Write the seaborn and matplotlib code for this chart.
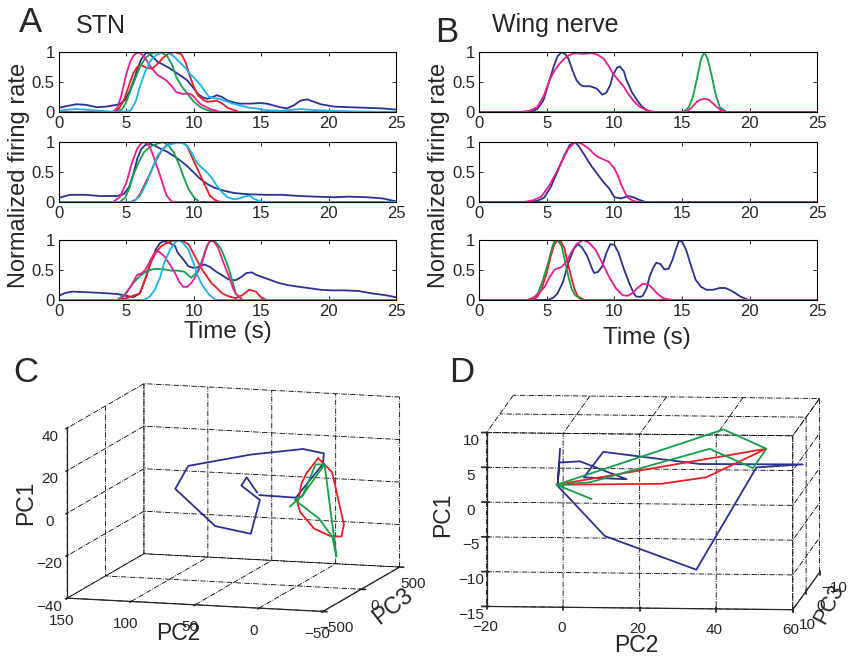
import matplotlib
matplotlib.use("Agg")
import matplotlib.pyplot as plt
import pandas as pd
import seaborn as sns

# colours of the recorded units
unit_colors = {"blue": "#2B3190", "red": "#EE1D24", "green": "#14A04A",
               "magenta": "#EC1C8C", "cyan": "#17B4EA"}

# ---- A: STN, normalized firing rate vs time (s), three trials ----
stn_trial1 = {
    "blue": ([0, 0.6, 1.3, 2.0, 2.8, 3.5, 4.0, 4.5, 4.9, 5.2, 5.5, 5.8, 6.1, 6.5, 6.9, 7.3, 7.8, 8.2, 8.8,
              9.5, 9.9, 10.3, 10.7, 11.0, 11.4, 11.7, 12.1, 12.5, 13.0, 13.4, 14.2, 14.9, 15.4, 15.9, 16.4,
              16.9, 17.4, 17.9, 18.4, 18.9, 19.4, 20.4, 21.5, 22.8, 24.0, 25],
             [0.07, 0.10, 0.13, 0.12, 0.08, 0.09, 0.11, 0.13, 0.20, 0.33, 0.50, 0.70, 0.88, 1.0, 0.93, 0.84,
              0.78, 0.73, 0.64, 0.53, 0.42, 0.30, 0.24, 0.22, 0.25, 0.28, 0.25, 0.19, 0.16, 0.14, 0.14, 0.15,
              0.14, 0.11, 0.08, 0.06, 0.11, 0.19, 0.21, 0.17, 0.13, 0.09, 0.08, 0.07, 0.06, 0.04]),
    "red": ([0, 4.0, 4.4, 4.8, 5.2, 5.5, 5.8, 6.1, 6.5, 6.9, 7.3, 7.7, 8.1, 8.6, 9.1, 9.4, 9.7, 10.0, 10.3,
             10.7, 11.0, 11.4, 11.7, 12.1, 12.5, 13.0, 13.4, 25],
            [0, 0, 0.04, 0.19, 0.45, 0.64, 0.75, 0.78, 0.74, 0.72, 0.80, 0.90, 0.97, 1.0, 0.96, 0.82, 0.60,
             0.42, 0.28, 0.20, 0.17, 0.18, 0.19, 0.14, 0.07, 0.03, 0.0, 0]),
    "green": ([0, 4.3, 4.7, 5.0, 5.3, 5.7, 6.0, 6.4, 6.8, 7.3, 7.7, 8.0, 8.4, 8.7, 9.1, 9.5, 10.0, 10.5,
               11.0, 11.5, 25],
              [0, 0, 0.05, 0.17, 0.36, 0.58, 0.75, 0.90, 0.97, 1.0, 0.98, 0.94, 0.78, 0.58, 0.43, 0.31, 0.17,
               0.08, 0.03, 0.0, 0]),
    "magenta": ([0, 4.0, 4.3, 4.6, 5.0, 5.3, 5.6, 5.9, 6.2, 6.5, 6.8, 7.3, 8.0, 8.4, 8.7, 9.2, 9.6, 9.9,
                 10.2, 10.5, 11.2, 12.0, 25],
                [0, 0, 0.06, 0.25, 0.64, 0.85, 0.96, 1.0, 0.95, 0.86, 0.75, 0.62, 0.52, 0.42, 0.33, 0.30,
                 0.31, 0.28, 0.20, 0.13, 0.05, 0.0, 0]),
    "cyan": ([0, 0.7, 1.3, 2.0, 3.0, 4.5, 5.3, 5.7, 6.0, 6.4, 6.8, 7.2, 7.6, 8.0, 8.5, 9.0, 9.4, 9.7, 10.1,
              10.5, 10.8, 11.1, 11.5, 11.9, 12.4, 12.9, 13.4, 13.9, 14.6, 15.4, 16.5, 17.9, 19.0, 20.4, 22.0, 25],
             [0.02, 0.04, 0.05, 0.04, 0.02, 0.0, 0.02, 0.18, 0.42, 0.68, 0.86, 0.95, 0.99, 1.0, 0.93, 0.82,
              0.73, 0.64, 0.55, 0.45, 0.35, 0.26, 0.23, 0.22, 0.18, 0.14, 0.11, 0.08, 0.06, 0.03, 0.02, 0.05,
              0.03, 0.02, 0.01, 0.0]),
}
stn_trial2 = {
    "blue": ([0, 0.8, 2.0, 3.0, 4.3, 4.8, 5.2, 5.5, 5.8, 6.1, 6.4, 6.8, 7.2, 7.5, 8.0, 8.5, 9.0, 9.5, 10.0,
              10.5, 11.0, 11.5, 12.2, 13.0, 14.0, 15.4, 16.5, 17.9, 19.0, 20.4, 21.5, 22.8, 24.0, 25],
             [0.07, 0.12, 0.12, 0.10, 0.10, 0.13, 0.25, 0.45, 0.72, 0.88, 0.95, 0.97, 0.93, 0.89, 0.84, 0.77,
              0.69, 0.60, 0.49, 0.38, 0.30, 0.24, 0.19, 0.15, 0.13, 0.12, 0.12, 0.10, 0.09, 0.08, 0.09, 0.08,
              0.06, 0.01]),
    "red": ([0, 5.3, 5.7, 6.0, 6.3, 6.7, 7.0, 7.4, 7.7, 8.1, 8.5, 9.2, 9.5, 9.7, 10.1, 10.5, 10.9, 11.2,
             11.6, 12.0, 25],
            [0, 0, 0.04, 0.13, 0.27, 0.45, 0.60, 0.78, 0.89, 0.96, 1.0, 0.99, 0.93, 0.83, 0.63, 0.44, 0.24,
             0.10, 0.03, 0.0, 0]),
    "green": ([0, 4.5, 4.9, 5.2, 5.5, 5.9, 6.3, 6.7, 7.0, 7.4, 7.7, 8.1, 8.5, 8.9, 9.2, 9.6, 10.0, 10.4, 25],
              [0, 0, 0.07, 0.22, 0.44, 0.66, 0.83, 0.91, 0.95, 0.98, 1.0, 0.95, 0.83, 0.63, 0.44, 0.22, 0.08,
               0.0, 0]),
    "magenta": ([0, 4.0, 4.5, 5.0, 5.4, 5.8, 6.1, 6.3, 6.6, 6.8, 7.1, 7.5, 7.8, 8.0, 8.4, 25],
                [0, 0, 0.08, 0.32, 0.65, 0.89, 0.98, 1.0, 0.96, 0.89, 0.70, 0.44, 0.22, 0.10, 0.0, 0]),
    "cyan": ([0, 5.5, 6.0, 6.5, 6.9, 7.3, 7.7, 8.0, 8.4, 8.7, 9.1, 9.5, 9.9, 10.2, 10.6, 11.0, 11.4, 11.7,
              12.1, 12.5, 12.9, 13.2, 13.6, 13.9, 14.2, 14.4, 14.8, 15.2, 25],
             [0, 0, 0.10, 0.32, 0.55, 0.77, 0.88, 0.94, 0.97, 0.99, 0.99, 0.94, 0.80, 0.66, 0.57, 0.49, 0.38,
              0.27, 0.16, 0.08, 0.05, 0.05, 0.08, 0.10, 0.10, 0.06, 0.02, 0.0, 0]),
}
stn_trial3 = {
    "blue": ([0, 0.5, 1.0, 2.0, 3.0, 4.3, 5.0, 5.5, 6.0, 6.4, 6.8, 7.2, 7.5, 7.8, 8.2, 8.6, 8.8, 9.2, 9.6,
              10.1, 10.5, 10.8, 11.2, 11.6, 12.1, 12.6, 13.1, 13.5, 13.9, 14.3, 14.6, 15.1, 15.6, 16.2, 16.9,
              17.5, 18.1, 18.8, 19.4, 20.3, 21.2, 22.2, 23.2, 24.2, 25],
             [0.07, 0.12, 0.14, 0.13, 0.12, 0.10, 0.07, 0.045, 0.11, 0.35, 0.62, 0.85, 0.95, 0.98, 0.95, 0.90,
              0.79, 0.68, 0.56, 0.53, 0.57, 0.59, 0.55, 0.48, 0.41, 0.34, 0.33, 0.38, 0.45, 0.46, 0.42, 0.38,
              0.34, 0.29, 0.25, 0.23, 0.21, 0.19, 0.17, 0.16, 0.16, 0.15, 0.11, 0.08, 0.045]),
    "red": ([0, 4.5, 5.0, 5.5, 6.0, 6.4, 6.8, 7.2, 7.6, 8.0, 8.6, 9.1, 9.6, 10.1, 10.6, 11.0, 11.3, 11.7,
             12.1, 12.6, 13.1, 13.6, 14.1, 14.6, 15.0, 15.4, 25],
            [0, 0, 0.03, 0.07, 0.11, 0.35, 0.62, 0.80, 0.90, 0.95, 1.0, 0.99, 0.93, 0.72, 0.51, 0.38, 0.28,
             0.20, 0.11, 0.06, 0.03, 0.08, 0.17, 0.14, 0.04, 0.0, 0]),
    "green": ([0, 4.3, 4.9, 5.5, 6.0, 6.5, 6.9, 7.3, 7.8, 8.3, 8.8, 9.3, 9.8, 10.3, 10.6, 10.8, 11.0, 11.3,
               11.6, 12.0, 12.3, 12.6, 12.9, 13.1, 13.6, 25],
              [0, 0, 0.10, 0.28, 0.40, 0.48, 0.51, 0.52, 0.51, 0.49, 0.49, 0.47, 0.37, 0.48, 0.65, 0.79, 0.92,
               1.0, 0.97, 0.86, 0.70, 0.51, 0.28, 0.11, 0.0, 0]),
    "magenta": ([0, 4.5, 4.9, 5.3, 5.8, 6.1, 6.4, 6.8, 7.1, 7.4, 7.8, 8.2, 8.6, 8.9, 9.2, 9.5, 9.8, 10.2,
                 10.6, 10.9, 11.2, 11.5, 11.8, 12.2, 12.6, 12.9, 13.1, 13.6, 25],
                [0, 0, 0.08, 0.22, 0.42, 0.44, 0.50, 0.67, 0.79, 0.81, 0.73, 0.60, 0.45, 0.31, 0.22, 0.22,
                 0.28, 0.42, 0.62, 0.85, 1.0, 0.97, 0.87, 0.62, 0.39, 0.20, 0.11, 0.0, 0]),
    "cyan": ([0, 6.3, 6.7, 7.1, 7.5, 7.8, 8.2, 8.6, 8.9, 9.2, 9.6, 10.0, 10.3, 10.7, 11.1, 11.6, 25],
             [0, 0, 0.05, 0.17, 0.38, 0.62, 0.82, 0.96, 1.0, 0.95, 0.84, 0.60, 0.39, 0.22, 0.10, 0.0, 0]),
}

# ---- B: wing nerve ----
wing_trial1 = {
    "red": ([0, 25], [0, 0]),
    "green": ([0, 15.1, 15.5, 15.8, 16.1, 16.4, 16.65, 16.9, 17.2, 17.5, 17.8, 18.3, 25],
              [0, 0, 0.08, 0.25, 0.55, 0.88, 1.0, 0.88, 0.60, 0.28, 0.08, 0.0, 0]),
    "blue": ([0, 3.8, 4.3, 4.75, 5.1, 5.5, 5.8, 6.1, 6.4, 6.6, 6.9, 7.2, 7.5, 7.7, 8.2, 8.7, 9.1, 9.4, 9.7,
              9.9, 10.2, 10.4, 10.7, 10.9, 11.3, 11.7, 12.0, 12.4, 12.9, 25],
             [0, 0, 0.05, 0.19, 0.45, 0.75, 0.93, 1.0, 0.96, 0.89, 0.70, 0.53, 0.45, 0.43, 0.43, 0.39, 0.29,
              0.32, 0.45, 0.62, 0.74, 0.76, 0.68, 0.53, 0.33, 0.19, 0.10, 0.03, 0.0, 0]),
    "magenta": ([0, 3.0, 3.7, 4.3, 4.8, 5.2, 5.6, 6.0, 6.5, 7.0, 7.7, 8.4, 8.8, 9.2, 9.6, 9.9, 10.3, 10.7,
                 11.0, 11.4, 11.8, 12.1, 12.5, 12.9, 15.3, 15.7, 16.1, 16.4, 16.7, 17.0, 17.3, 17.7, 18.1, 25],
                [0, 0, 0.02, 0.08, 0.28, 0.53, 0.70, 0.82, 0.93, 0.98, 0.97, 0.98, 0.95, 0.89, 0.76, 0.64,
                 0.53, 0.42, 0.31, 0.19, 0.10, 0.06, 0.02, 0.0, 0.0, 0.07, 0.17, 0.21, 0.22, 0.20, 0.14, 0.06,
                 0.0, 0]),
}
wing_trial2 = {
    "red": ([0, 25], [0, 0]),
    "green": ([0, 25], [0, 0]),
    "blue": ([0, 3.6, 4.3, 4.8, 5.3, 5.8, 6.3, 6.7, 7.1, 7.4, 7.8, 8.3, 8.8, 9.2, 9.6, 10.0, 10.5, 11.0,
              11.4, 11.8, 12.3, 25],
             [0, 0, 0.02, 0.07, 0.25, 0.51, 0.78, 0.95, 1.0, 0.92, 0.78, 0.60, 0.45, 0.33, 0.23, 0.08, 0.06,
              0.10, 0.08, 0.04, 0.0, 0]),
    "magenta": ([0, 3.3, 4.0, 4.6, 5.2, 5.8, 6.2, 6.6, 7.0, 7.2, 7.6, 8.1, 8.5, 8.8, 9.2, 9.6, 10.0, 10.3,
                 10.5, 10.8, 11.0, 11.4, 11.8, 25],
                [0, 0, 0.03, 0.09, 0.28, 0.53, 0.72, 0.89, 0.98, 1.0, 0.97, 0.89, 0.80, 0.75, 0.71, 0.67,
                 0.56, 0.42, 0.29, 0.15, 0.07, 0.02, 0.0, 0]),
}
wing_trial3 = {
    "blue": ([0, 5.1, 5.5, 5.8, 6.2, 6.6, 7.0, 7.3, 7.6, 8.0, 8.3, 8.5, 8.8, 9.1, 9.4, 9.7, 10.0, 10.3, 10.7,
              11.1, 11.4, 11.6, 11.9, 12.1, 12.4, 12.6, 12.9, 13.1, 13.4, 13.7, 14.0, 14.3, 14.6, 14.8, 15.0,
              15.3, 15.6, 16.0, 16.4, 16.8, 17.3, 17.8, 18.2, 18.5, 18.9, 19.3, 19.9, 25],
             [0, 0, 0.04, 0.11, 0.30, 0.62, 0.85, 0.93, 0.88, 0.73, 0.55, 0.45, 0.47, 0.56, 0.78, 0.93, 0.92,
              0.79, 0.52, 0.28, 0.13, 0.06, 0.05, 0.07, 0.20, 0.39, 0.55, 0.62, 0.60, 0.51, 0.52, 0.67, 0.88,
              1.0, 0.97, 0.84, 0.62, 0.34, 0.22, 0.17, 0.17, 0.20, 0.20, 0.17, 0.12, 0.06, 0.0, 0]),
    "red": ([0, 3.9, 4.3, 4.6, 5.0, 5.3, 5.55, 5.8, 6.05, 6.3, 6.55, 6.8, 7.05, 7.3, 7.8, 25],
            [0, 0, 0.05, 0.17, 0.45, 0.73, 0.92, 1.0, 0.97, 0.87, 0.62, 0.39, 0.18, 0.06, 0.0, 0]),
    "green": ([0, 3.6, 4.0, 4.35, 4.7, 5.1, 5.4, 5.6, 5.85, 6.1, 6.35, 6.6, 6.85, 7.1, 7.6, 25],
              [0, 0, 0.03, 0.11, 0.32, 0.62, 0.88, 1.0, 0.98, 0.90, 0.65, 0.39, 0.18, 0.08, 0.0, 0]),
    "magenta": ([0, 3.6, 4.2, 4.85, 5.2, 5.6, 6.1, 6.5, 6.8, 7.2, 7.7, 8.1, 8.6, 9.1, 9.6, 10.1, 10.6, 11.0,
                 11.3, 11.7, 12.1, 12.5, 12.8, 13.2, 13.6, 14.3, 25],
                [0, 0, 0.06, 0.22, 0.38, 0.51, 0.55, 0.65, 0.79, 0.93, 1.0, 0.96, 0.84, 0.62, 0.39, 0.20,
                 0.08, 0.07, 0.11, 0.20, 0.27, 0.26, 0.20, 0.10, 0.03, 0.0, 0]),
}

# ---- C: STN trajectories in PC space ----
stn_blue_pc2 = [29.8, 0.6, -18.9, -18.9, -3.3, 37.1, 85.3, 94.9, 63.1, 35.8, 29.3, 44.4, 40.2, 31.4]
stn_blue_pc3 = [0, -10, 20, 30, 20, 10, 0, -10, -20, -10, 0, 10, 10, 0]
stn_blue_pc1 = [1.8, 1.7, 17.6, 22.3, 24.1, 20.4, 13.8, 2.9, -13.4, -16.4, -0.5, 5.6, 9.6, 2.9]
stn_red_pc2 = [-16.3, -24.1, -26.7, -35.8, -34.5, -26.7, -13.7, -2.0, -0.2, -3.3, -7.2, -16.3]
stn_red_pc3 = [0, 0, 10, 10, 0, -10, -10, 0, 0, 0, 0, 0]
stn_red_pc1 = [20.6, 16.2, 13.9, -10.1, -15.7, -15.6, -12.4, -5.0, -1.1, 8.4, 13.3, 20.6]
stn_green_pc2 = [5.9, -4.5, -13.7, -20.7, -3.3, 2.0, -17.6, -28.0, -30.6, -20.7]
stn_green_pc3 = [0, 0, 10, 10, 0, 0, -10, -10, 0, 10]
stn_green_pc1 = [-2.9, 3.0, 17.4, 17.6, 2.1, 0.4, -7.6, -15.9, -25.2, 17.6]

# ---- D: wing nerve trajectories in PC space ----
wing_blue_pc2 = [-4.3, -4.9, -4.5, 0.9, 13.1, 1.9, 7.0, 32.2, 59.1, 47.0, 31.3, 7.4, -5.2]
wing_blue_pc3 = [0, 0, 0, 0, 0, 0, 0, 0, 0, 0, 0, 0, 0]
wing_blue_pc1 = [5.1, 0.0, 3.1, 3.3, 0.8, 1.0, 4.7, 3.1, 3.2, 2.7, -12.1, -7.4, -0.1]
wing_red_pc2 = [-5.2, 22.2, 33.9, 49.6, -5.2]
wing_red_pc3 = [0, 0, 0, 0, 0]
wing_red_pc1 = [-0.1, 0.2, 1.2, 5.4, -0.1]
wing_green_pc2 = [3.9, -5.2, 38.4, 49.6, 46.1, 34.8, 3.5, -5.2]
wing_green_pc3 = [0, 0, 0, 0, 0, 0, 0, 0]
wing_green_pc1 = [-2.1, -0.1, 8.1, 5.4, 2.6, 5.3, 0.3, -0.1]

time_ticks = [0, 5, 10, 15, 20, 25]
rate_ticks = [0, 0.5, 1]
rate_labels = ["0", "0.5", "1"]


def trace_frame(traces):
    rows = []
    for unit, (times, rates) in traces.items():
        for t, r in zip(times, rates):
            rows.append((unit, t, r))
    return pd.DataFrame(rows, columns=["unit", "time", "rate"])


def rate_panel(ax, traces):
    df = trace_frame(traces)
    sns.lineplot(data=df, x="time", y="rate", hue="unit", hue_order=list(traces),
                 palette=unit_colors, estimator=None, legend=False, lw=1.3, ax=ax)
    ax.set_xlim(0, 25)
    ax.set_ylim(0, 1)
    ax.set_xticks(time_ticks)
    ax.set_yticks(rate_ticks)
    ax.set_yticklabels(rate_labels)
    ax.set_xlabel("")
    ax.set_ylabel("")
    ax.tick_params(direction="in", top=True, right=True, length=3, width=0.7,
                   labelsize=12, pad=3)
    for s in ax.spines.values():
        s.set_linewidth(0.8)
        s.set_color("black")


def pc_panel(ax, lines, xlim, ylim, zlim, xticks, yticks, zticks, aspect, elev, azim):
    for pc2, pc3, pc1, col in lines:
        ax.plot(pc2, pc3, pc1, color=unit_colors[col], lw=1.3)
    ax.set_xlim(*xlim)
    ax.set_ylim(*ylim)
    ax.set_zlim(*zlim)
    ax.set_xticks(xticks)
    ax.set_yticks(yticks)
    ax.set_zticks(zticks)
    ax.set_box_aspect(aspect)
    ax.set_proj_type("ortho")
    ax.view_init(elev=elev, azim=azim)
    ax.patch.set_alpha(0)
    for axis in (ax.xaxis, ax.yaxis, ax.zaxis):
        axis.set_pane_color((1, 1, 1, 0))
        axis.line.set_linewidth(0.9)
    ax.tick_params(labelsize=11, pad=0)


sns.set_theme(style="ticks")
plt.rcParams["font.family"] = ["Liberation Sans", "DejaVu Sans"]
plt.rcParams["grid.linestyle"] = "-."
plt.rcParams["grid.color"] = "black"
plt.rcParams["grid.linewidth"] = 0.6

fig = plt.figure(figsize=(8.54, 6.57), dpi=100)

row_bottoms = [0.8295, 0.6925, 0.5434]
for traces, b in zip([stn_trial1, stn_trial2, stn_trial3], row_bottoms):
    rate_panel(fig.add_axes([0.069, b, 0.395, 0.0913]), traces)
for traces, b in zip([wing_trial1, wing_trial2, wing_trial3], row_bottoms):
    rate_panel(fig.add_axes([0.561, b, 0.396, 0.0913]), traces)

axC = fig.add_axes([0.031, -0.0723, 0.4719, 0.6134], projection="3d")
pc_panel(axC,
         [(stn_blue_pc2, stn_blue_pc3, stn_blue_pc1, "blue"),
          (stn_red_pc2, stn_red_pc3, stn_red_pc1, "red"),
          (stn_green_pc2, stn_green_pc3, stn_green_pc1, "green")],
         (150, -50), (-500, 500), (-40, 40),
         [-50, 0, 50, 100, 150], [-500, 0, 500], [-40, -20, 0, 20, 40],
         (1, 1, 0.647), 10, -73.3)
axC.zaxis.set_ticks_position("lower")
axC.xaxis.set_tick_params(pad=3)

axD = fig.add_axes([0.4911, -0.1204, 0.5328, 0.6925], projection="3d")
pc_panel(axD,
         [(wing_blue_pc2, wing_blue_pc3, wing_blue_pc1, "blue"),
          (wing_red_pc2, wing_red_pc3, wing_red_pc1, "red"),
          (wing_green_pc2, wing_green_pc3, wing_green_pc1, "green")],
         (-20, 60), (-10, 10), (-15, 10),
         [-20, 0, 20, 40, 60], [-10, 0, 10], [-15, -10, -5, 0, 5, 10],
         (1, 1, 0.57), -7, -95)
axD.xaxis.set_ticks_position("lower")
axD.yaxis.set_ticks_position("lower")
axD.xaxis.set_tick_params(pad=3)

W, H = 854, 657


def label(x, y, s, size, rot=0):
    fig.text(x / W, 1 - y / H, s, fontsize=size, rotation=rot, ha="center", va="center")


label(31, 23, "A", 25)
label(101, 26, "STN", 18)
label(447, 32, "B", 25)
label(555, 25, "Wing nerve", 18)
label(19, 175, "Normalized firing rate", 17, 90)
label(439, 175, "Normalized firing rate", 17, 90)
label(228, 332, "Time (s)", 17.5)
label(647, 338, "Time (s)", 17.5)
label(26, 373, "C", 25)
label(462, 373, "D", 25)
label(26, 503, "PC1", 16.5, 90)
label(178, 633, "PC2", 16.5)
label(393, 606, "PC3", 16.5, 38)
label(443, 515, "PC1", 16.5, 90)
label(636, 645, "PC2", 16.5)
label(829, 604, "PC3", 15.5, 62)

fig.savefig("out.png", dpi=100)
